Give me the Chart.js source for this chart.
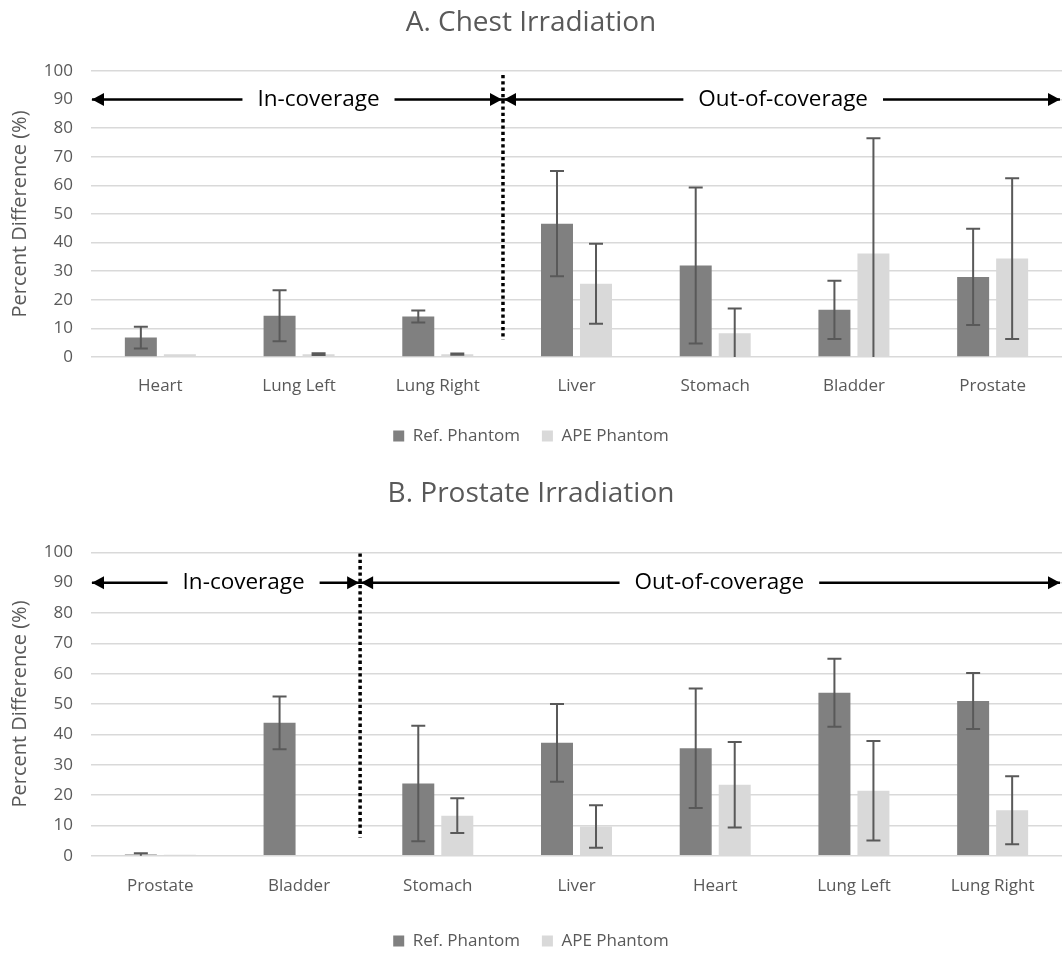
<!DOCTYPE html>
<html>
<head>
<meta charset="utf-8">
<script src="https://cdn.jsdelivr.net/npm/chart.js@4.4.1/dist/chart.umd.min.js"></script>
<style>
  html, body { margin: 0; padding: 0; background: #fff; overflow: hidden; }
  .panel { position: absolute; left: 0; width: 1062px; }
  #panelA { top: 0; height: 465px; }
  #panelB { top: 465px; height: 500px; }
</style>
</head>
<body>
<div class="panel" id="panelA"><canvas id="chartA"></canvas></div>
<div class="panel" id="panelB"><canvas id="chartB"></canvas></div>
<script>
// A. Chest irradiation
const chestOrgans = ['Heart', 'Lung Left', 'Lung Right', 'Liver', 'Stomach', 'Bladder', 'Prostate'];
const chestRef    = [6.8, 14.4, 14.2, 46.6, 32.0, 16.5, 28.0];
const chestRefErr = [3.8, 8.9, 2.1, 18.4, 27.3, 10.2, 16.8];
const chestApe    = [1.0, 1.0, 1.0, 25.6, 8.3, 36.2, 34.4];
const chestApeErr = [0, 0.3, 0.2, 14.0, 8.7, 40.3, 28.1];

// B. Prostate irradiation
const prostateOrgans = ['Prostate', 'Bladder', 'Stomach', 'Liver', 'Heart', 'Lung Left', 'Lung Right'];
const prostateRef    = [0.4, 43.8, 23.8, 37.2, 35.4, 53.7, 51.0];
const prostateRefErr = [0.4, 8.7, 19.0, 12.8, 19.7, 11.2, 9.2];
const prostateApe    = [0.3, 0.2, 13.2, 9.6, 23.4, 21.4, 15.0];
const prostateApeErr = [0, 0, 5.7, 7.0, 14.1, 16.4, 11.2];

const yTicks = [0, 10, 20, 30, 40, 50, 60, 70, 80, 90, 100];

const FONT = '"Open Sans", "Noto Sans", sans-serif';
const GREY_TEXT = '#595959';

// symmetric error bars, clipped at the axis minimum (no cap when clipped)
const errorBars = {
  id: 'errorBars',
  afterDatasetsDraw(chart) {
    const { ctx, scales: { y } } = chart;
    ctx.save();
    ctx.strokeStyle = '#595959';
    ctx.lineWidth = 2;
    chart.data.datasets.forEach((ds, i) => {
      chart.getDatasetMeta(i).data.forEach((bar, j) => {
        const v = ds.data[j], e = ds.errors[j];
        if (!e) return;
        const hi = y.getPixelForValue(v + e);
        const lowVal = v - e;
        const lo = y.getPixelForValue(Math.max(lowVal, 0));
        ctx.beginPath();
        ctx.moveTo(bar.x, hi); ctx.lineTo(bar.x, lo);
        ctx.moveTo(bar.x - 7, hi); ctx.lineTo(bar.x + 7, hi);
        if (lowVal > 0) { ctx.moveTo(bar.x - 7, lo); ctx.lineTo(bar.x + 7, lo); }
        ctx.stroke();
      });
    });
    ctx.restore();
  }
};

function arrowHead(ctx, tipX, y, dir) {
  ctx.beginPath();
  ctx.moveTo(tipX, y);
  ctx.lineTo(tipX - dir * 12, y - 6.5);
  ctx.lineTo(tipX - dir * 12, y + 6.5);
  ctx.closePath();
  ctx.fill();
}

// dotted divider + in/out-of-coverage arrows
const coverage = {
  id: 'coverage',
  afterDatasetsDraw(chart, args, o) {
    const { ctx, chartArea, scales: { x, y } } = chart;
    const xd = x.getPixelForValue(o.divider);
    const ya = y.getPixelForValue(90);
    ctx.save();
    ctx.strokeStyle = '#000';
    ctx.fillStyle = '#000';

    ctx.lineWidth = 3.5;
    ctx.setLineDash([3.3, 3]);
    ctx.beginPath();
    ctx.moveTo(xd, y.getPixelForValue(o.dividerTop));
    ctx.lineTo(xd, y.getPixelForValue(6));
    ctx.stroke();
    ctx.setLineDash([]);

    const x0 = chartArea.left + 1, x1 = chart.width - 2;
    ctx.lineWidth = 2.5;
    ctx.beginPath();
    ctx.moveTo(x0, ya); ctx.lineTo(x1, ya);
    ctx.stroke();
    arrowHead(ctx, x0, ya, -1);
    arrowHead(ctx, xd - 1, ya, 1);
    arrowHead(ctx, xd + 1, ya, -1);
    arrowHead(ctx, x1, ya, 1);

    ctx.font = '22.5px ' + FONT;
    ctx.textAlign = 'center';
    ctx.textBaseline = 'middle';
    [[o.inAt, 'In-coverage'], [o.outAt, 'Out-of-coverage']].forEach(([v, t]) => {
      const cx = x.getPixelForValue(v);
      const w = ctx.measureText(t).width + 30;
      ctx.fillStyle = '#fff';
      ctx.fillRect(cx - w / 2, ya - 5, w, 10);
      ctx.fillStyle = '#000';
      ctx.fillText(t, cx, ya);
    });
    ctx.restore();
  }
};

function makeChart(id, cfg) {
  return new Chart(document.getElementById(id), {
    type: 'bar',
    data: {
      labels: cfg.labels,
      datasets: [
        { label: 'Ref. Phantom', data: cfg.ref, errors: cfg.refErr, backgroundColor: '#808080' },
        { label: 'APE Phantom', data: cfg.ape, errors: cfg.apeErr, backgroundColor: '#d9d9d9' },
      ],
    },
    options: {
      responsive: true,
      maintainAspectRatio: false,
      animation: false,
      categoryPercentage: 0.5625,
      barPercentage: 0.82,
      layout: { padding: { left: 0, right: 0, top: 0, bottom: cfg.padBottom } },
      scales: {
        x: {
          grid: { display: false, drawTicks: false },
          border: { display: false },
          ticks: { color: GREY_TEXT, font: { family: FONT, size: 17 }, padding: cfg.xPad, maxRotation: 0 },
          afterFit(s) { s.height = cfg.xHeight; },
        },
        y: {
          min: 0, max: 100,
          afterBuildTicks(s) { s.ticks = yTicks.map(v => ({ value: v })); },
          grid: { color: '#d9d9d9', lineWidth: 1.6, drawTicks: false },
          border: { display: false },
          ticks: { color: GREY_TEXT, font: { family: FONT, size: 17 }, padding: 18 },
          title: {
            display: true, text: 'Percent Difference (%)', color: GREY_TEXT,
            font: { family: FONT, size: 20 }, padding: { top: 8, bottom: 0 },
          },
          afterFit(s) { s.width = 91; },
        },
      },
      plugins: {
        title: {
          display: true, text: cfg.title, color: GREY_TEXT,
          font: { family: FONT, size: 28, weight: 'normal' },
          padding: { top: cfg.titleTop, bottom: cfg.titleBottom },
        },
        legend: {
          position: 'bottom',
          labels: { color: GREY_TEXT, font: { family: FONT, size: 17 }, boxWidth: 11, boxHeight: 11, padding: 22 },
        },
        tooltip: { enabled: false },
        coverage: cfg.coverage,
      },
    },
    plugins: [errorBars, coverage],
  });
}

makeChart('chartA', {
  labels: chestOrgans, ref: chestRef, refErr: chestRefErr, ape: chestApe, apeErr: chestApeErr,
  title: 'A. Chest Irradiation', titleTop: 6.7, titleBottom: 30.7,
  xPad: 19, xHeight: 48.5, padBottom: 10.5,
  coverage: { divider: 2.47, dividerTop: 98.6, inAt: 1.14, outAt: 4.49 },
});

makeChart('chartB', {
  labels: prostateOrgans, ref: prostateRef, refErr: prostateRefErr, ape: prostateApe, apeErr: prostateApeErr,
  title: 'B. Prostate Irradiation', titleTop: 12.7, titleBottom: 41,
  xPad: 20, xHeight: 54.8, padBottom: 5.5,
  coverage: { divider: 1.44, dividerTop: 99.6, inAt: 0.60, outAt: 4.03 },
});
</script>
</body>
</html>
